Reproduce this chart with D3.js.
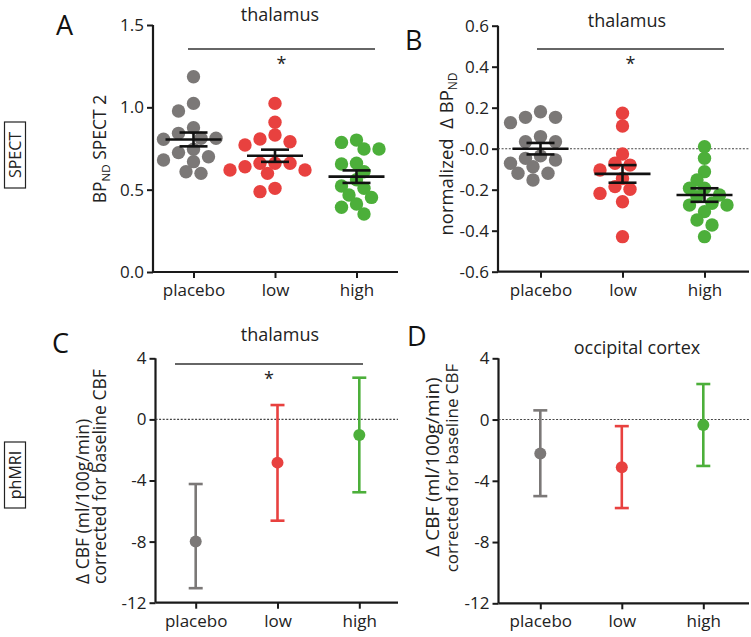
<!DOCTYPE html>
<html><head><meta charset="utf-8">
<script src="https://cdn.jsdelivr.net/npm/d3@7"></script>
<style>
html,body{margin:0;padding:0;background:#fff;}
svg{display:block;font-family:"Open Sans",sans-serif;}
</style></head>
<body><svg id="c" width="751" height="637"></svg>
<script>
const categories = ["placebo","low","high"];
const colors = ["#7b7877","#e8413f","#4caf3a"];

// Panel A: BPND SPECT 2 (thalamus)
const bpPlacebo = [1.186,1.024,0.978,0.876,0.842,0.812,0.812,0.806,0.745,0.725,0.700,0.680,0.670,0.609,0.599];
const bpLow     = [1.024,0.909,0.832,0.808,0.791,0.771,0.660,0.660,0.660,0.639,0.619,0.619,0.599,0.508,0.488];
const bpHigh    = [0.801,0.787,0.747,0.747,0.660,0.656,0.609,0.560,0.522,0.508,0.468,0.453,0.413,0.393,0.352];
const bpMean = [0.805,0.706,0.579];
const bpSem  = [0.042,0.037,0.038];
const bpTicks = [0.0,0.5,1.0,1.5];
const bpTickLabels = ["0.0","0.5","1.0","1.5"];

// Panel B: normalized delta BPND (thalamus)
const dbpPlacebo = [0.180,0.153,0.153,0.127,0.059,0.034,0.034,-0.035,-0.047,-0.055,-0.071,-0.088,-0.120,-0.120,-0.153];
const dbpLow     = [0.173,0.111,-0.026,-0.071,-0.080,-0.104,-0.145,-0.185,-0.198,-0.218,-0.259,-0.429];
const dbpHigh    = [0.010,-0.047,-0.112,-0.153,-0.193,-0.193,-0.226,-0.234,-0.266,-0.275,-0.275,-0.307,-0.348,-0.372,-0.429];
const dbpMean = [0.000,-0.123,-0.226];
const dbpSem  = [0.028,0.043,0.033];
const dbpTicks = [0.6,0.4,0.2,0,-0.2,-0.4,-0.6];
const dbpTickLabels = ["0.6","0.4","0.2","-0.0","-0.2","-0.4","-0.6"];

// Panel C: delta CBF thalamus (mean and 95% CI)
const cbfThalMean = [-8.0,-2.83,-1.02];
const cbfThalLow  = [-11.05,-6.63,-4.77];
const cbfThalHigh = [-4.23,0.94,2.73];
// Panel D: delta CBF occipital cortex
const cbfOccMean = [-2.22,-3.12,-0.35];
const cbfOccLow  = [-5.0,-5.78,-3.03];
const cbfOccHigh = [0.6,-0.43,2.32];
const cbfTicks = [4,0,-4,-8,-12];
const cbfTickLabels = ["4","0","-4","-8","-12"];

const svg = d3.select("#c");
svg.append("rect").attr("width",751).attr("height",637).attr("fill","#fff");
const ink = "#1a1a1a";

function frame(cfg){
  const g = svg.append("g");
  const x = d3.scalePoint().domain(categories).range(cfg.xr);
  const y = d3.scaleLinear().domain(cfg.yd).range(cfg.yr);
  const yAx = d3.axisLeft(y).tickValues(cfg.ticks).tickSize(6).tickPadding(3)
     .tickFormat((d,i)=>cfg.tickLabels[i]);
  const ya = g.append("g").attr("transform",`translate(${cfg.ax0},0)`).call(yAx);
  const xAx = d3.axisBottom(x).tickSize(6).tickPadding(6);
  const xa = g.append("g").attr("transform",`translate(0,${cfg.yr[0]})`).call(xAx);
  xa.select(".domain").remove();
  xa.append("line").attr("x1",cfg.ax0).attr("x2",cfg.ax1).attr("stroke",ink).attr("stroke-width",2.2);
  ya.select(".domain").attr("stroke",ink).attr("stroke-width",2.2).attr("d",`M0,${cfg.yr[0]}V${cfg.yr[1]}`);
  [ya,xa].forEach(a=>{
    a.selectAll(".tick line").attr("stroke",ink).attr("stroke-width",2);
    a.selectAll("text").attr("fill","#222").style("font-family","'Open Sans',sans-serif");
  });
  ya.selectAll("text").style("font-size","17px");
  xa.selectAll("text").style("font-size","17px");
  if (cfg.zero){
    g.append("line").attr("x1",cfg.ax0).attr("x2",cfg.ax1).attr("y1",y(0)).attr("y2",y(0))
      .attr("stroke","#444").attr("stroke-width",1.1).attr("stroke-dasharray","2,1.6");
  }
  g.append("text").attr("x",cfg.title[0]).attr("y",cfg.title[1]).attr("text-anchor","middle")
    .style("font-size","18px").attr("fill","#222").text(cfg.titleText);
  g.append("text").attr("x",cfg.letter[0]).attr("y",cfg.letter[1]).style("font-size","27px")
    .attr("fill","#111").text(cfg.letterText);
  if (cfg.sig){
    g.append("line").attr("x1",cfg.sig[0]).attr("x2",cfg.sig[1]).attr("y1",cfg.sig[2]).attr("y2",cfg.sig[2])
      .attr("stroke","#333").attr("stroke-width",1.4);
    g.append("text").attr("x",(cfg.sig[0]+cfg.sig[1])/2).attr("y",cfg.sig[2]+21).attr("text-anchor","middle")
      .style("font-size","18px").attr("fill","#222").text("*");
  }
  return {g,x,y};
}

function swarm(values, yScale, cx, step, minD){
  const placed=[];
  const sorted = values.slice().sort((a,b)=>b-a);
  return sorted.map(v=>{
    const yy=yScale(v);
    for(let i=0;i<40;i++){
      const k = i===0?0:(i%2? -Math.ceil(i/2):Math.ceil(i/2));
      const xx = cx + k*step;
      if(placed.every(p=>(p.x-xx)**2+(p.y-yy)**2>=minD*minD)){placed.push({x:xx,y:yy});return {x:xx,y:yy};}
    }
    return {x:cx,y:yy};
  });
}

function dotPanel(p, groups, means, sems){
  groups.forEach((vals,i)=>{
    const cx = p.x(categories[i]);
    const pts = swarm(vals, p.y, cx, 7.5, 11);
    p.g.append("g").selectAll("circle").data(pts).join("circle")
      .attr("cx",d=>d.x).attr("cy",d=>d.y).attr("r",6.7).attr("fill",colors[i]);
  });
  means.forEach((m,i)=>{
    const cx = p.x(categories[i]);
    const gg = p.g.append("g").attr("stroke","#111").attr("stroke-width",2.6);
    gg.append("line").attr("x1",cx-28).attr("x2",cx+28).attr("y1",p.y(m)).attr("y2",p.y(m));
    gg.append("line").attr("x1",cx).attr("x2",cx).attr("y1",p.y(m+sems[i])).attr("y2",p.y(m-sems[i]));
    [m+sems[i],m-sems[i]].forEach(v=>gg.append("line").attr("x1",cx-14).attr("x2",cx+14).attr("y1",p.y(v)).attr("y2",p.y(v)));
  });
}

function errPanel(p, means, lo, hi){
  means.forEach((m,i)=>{
    const cx=p.x(categories[i]);
    const gg=p.g.append("g").attr("stroke",colors[i]).attr("stroke-width",2.6);
    gg.append("line").attr("x1",cx).attr("x2",cx).attr("y1",p.y(hi[i])).attr("y2",p.y(lo[i]));
    [hi[i],lo[i]].forEach(v=>gg.append("line").attr("x1",cx-7).attr("x2",cx+7).attr("y1",p.y(v)).attr("y2",p.y(v)));
    p.g.append("circle").attr("cx",cx).attr("cy",p.y(m)).attr("r",6).attr("fill",colors[i]);
  });
}

// A
const pA = frame({xr:[193.5,356.5], ax0:153, ax1:398, yd:[0,1.5], yr:[272,25], ticks:bpTicks, tickLabels:bpTickLabels,
  title:[280,21], titleText:"thalamus", letter:[56,35], letterText:"A", sig:[188,375,49]});
dotPanel(pA,[bpPlacebo,bpLow,bpHigh],bpMean,bpSem);
// B
const pB = frame({xr:[540.5,704.5], ax0:498, ax1:749, yd:[-0.6,0.6], yr:[271.7,25.7], ticks:dbpTicks, tickLabels:dbpTickLabels,
  title:[627,27], titleText:"thalamus", letter:[405,50], letterText:"B", sig:[537,724,49], zero:true});
dotPanel(pB,[dbpPlacebo,dbpLow,dbpHigh],dbpMean,dbpSem);
// C
const pC = frame({xr:[195.7,359.3], ax0:155.5, ax1:398, yd:[-12,4], yr:[602.7,358.3], ticks:cbfTicks, tickLabels:cbfTickLabels,
  title:[280,341], titleText:"thalamus", letter:[52,353], letterText:"C", sig:[175,363,364], zero:true});
errPanel(pC,cbfThalMean,cbfThalLow,cbfThalHigh);
// D
const pD = frame({xr:[540.3,703.3], ax0:498.5, ax1:749, yd:[-12,4], yr:[603.3,358.3], ticks:cbfTicks, tickLabels:cbfTickLabels,
  title:[637,354], titleText:"occipital cortex", letter:[407,346], letterText:"D", zero:true});
errPanel(pD,cbfOccMean,cbfOccLow,cbfOccHigh);

// Y axis labels
function vtext(x,y,anchor,size){
  return svg.append("text").attr("transform",`translate(${x},${y}) rotate(-90)`).attr("text-anchor",anchor)
    .style("font-size",size+"px").attr("fill","#222");
}
const la = vtext(106,149,"middle",17.5);
la.append("tspan").text("BP");
la.append("tspan").attr("dy",4).style("font-size","11.5px").text("ND");
la.append("tspan").attr("dy",-4).text(" SPECT 2");
const lb = vtext(453,154,"middle",18.5);
lb.append("tspan").style("white-space","pre").text("normalized  Δ BP");
lb.append("tspan").attr("dy",4).style("font-size","12px").text("ND");
vtext(89,584,"start",17.5).text("Δ CBF (ml/100g/min)");
vtext(106,584,"start",17.5).text("corrected for baseline CBF");
vtext(439,467,"middle",19).text("Δ CBF (ml/100g/min)");
vtext(458,468,"middle",17).text("corrected for baseline CBF");

// Row labels in boxes
function boxLabel(cy,h,label){
  svg.append("rect").attr("x",4.5).attr("y",cy-h/2).attr("width",21).attr("height",h)
    .attr("fill","none").attr("stroke","#222").attr("stroke-width",1.2);
  svg.append("text").attr("transform",`translate(15.5,${cy}) rotate(-90)`).attr("text-anchor","middle")
    .attr("dy","0.35em").style("font-size","16px").attr("fill","#222").text(label);
}
boxLabel(155,66,"SPECT");
boxLabel(475,66,"phMRI");
</script></body></html>
